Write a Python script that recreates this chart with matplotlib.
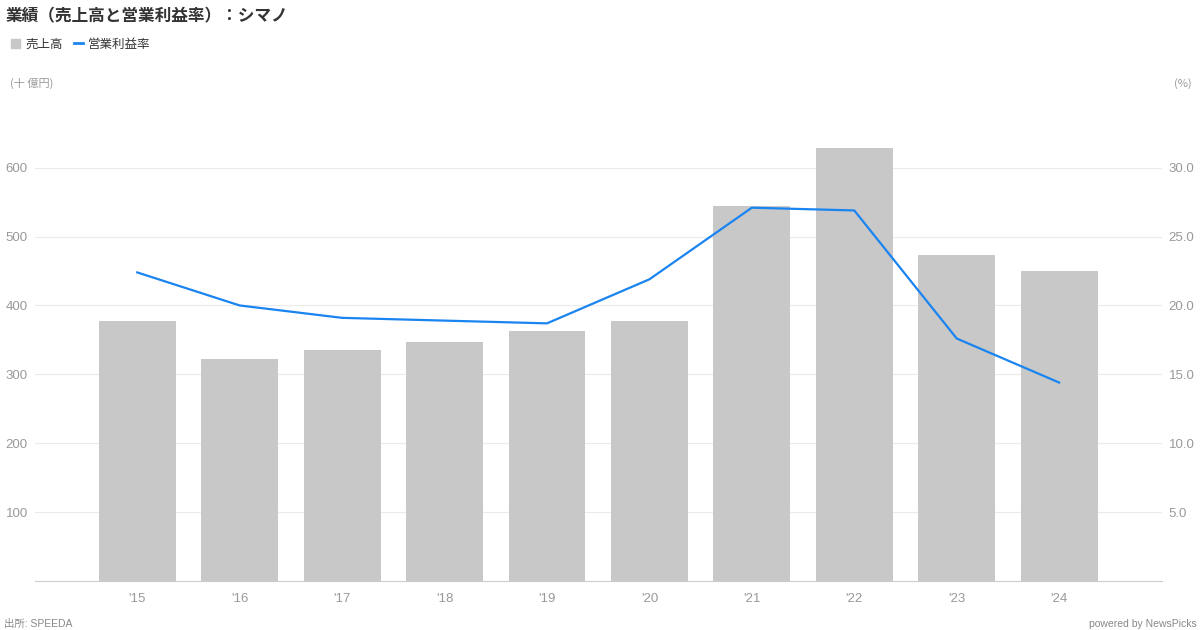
import matplotlib
matplotlib.use("Agg")
import matplotlib.pyplot as plt
from matplotlib.lines import Line2D
from matplotlib.patches import Patch

plt.rcParams['font.family'] = ['Noto Sans CJK JP', 'DejaVu Sans']

years = ["'15", "'16", "'17", "'18", "'19", "'20", "'21", "'22", "'23", "'24"]
sales = [378, 322, 335, 347, 363, 377, 545, 628, 473, 450]
op_margin = [22.4, 20.0, 19.1, 18.9, 18.7, 21.9, 27.1, 26.9, 17.6, 14.4]
left_ticks = [100, 200, 300, 400, 500, 600]
right_ticks = [5, 10, 15, 20, 25, 30]

bar_color = "#c8c8c8"
line_color = "#1a84f0"
tick_color = "#999999"
num_font = ['Liberation Sans', 'DejaVu Sans']

fig = plt.figure(figsize=(12, 6.3), dpi=100)
ax = fig.add_axes([0.029, 0.078, 0.939, 0.765])
ax2 = ax.twinx()

x = list(range(len(years)))
ax.bar(x, sales, width=0.75, color=bar_color, zorder=2)
ax2.plot(x, op_margin, color=line_color, lw=1.6, zorder=3)

ax.set_xlim(-1, 10)
ax.set_ylim(0, 700)
ax2.set_ylim(0, 35)

ax.set_yticks(left_ticks)
ax.set_yticklabels([str(v) for v in left_ticks], family=num_font)
ax2.set_yticks(right_ticks)
ax2.set_yticklabels([f"{v:.1f}" for v in right_ticks], family=num_font)
ax.set_xticks(x)
ax.set_xticklabels(years, family=num_font)

ax.grid(axis='y', color="#ebebeb", lw=0.8, zorder=0)
ax.set_axisbelow(True)

for a in (ax, ax2):
    for s in a.spines.values():
        s.set_visible(False)
    a.tick_params(length=0, colors=tick_color, labelsize=9.5)
ax.spines['bottom'].set_visible(True)
ax.spines['bottom'].set_color("#cccccc")
ax.tick_params(axis='x', pad=9)
ax.tick_params(axis='y', pad=5)
ax2.tick_params(axis='y', pad=5)

fig.text(0.005, 0.974, "業績（売上高と営業利益率）：シマノ", fontsize=12,
         fontweight='bold', color="#333333", va='center', ha='left')

handles = [Patch(color=bar_color), Line2D([0], [0], color=line_color, lw=2)]
fig.legend(handles, ["売上高", "営業利益率"], loc='center left',
           bbox_to_anchor=(0.0, 0.93), ncol=2, frameon=False, fontsize=9,
           handlelength=0.7, handleheight=0.7, handletextpad=0.4, columnspacing=0.9,
           labelcolor="#333333")

fig.text(0.008, 0.867, "(十 億円)", fontsize=8, color=tick_color, va='center')
fig.text(0.993, 0.867, "(%)", fontsize=8, color=tick_color, va='center', ha='right')

fig.text(0.003, 0.002, "出所: SPEEDA", fontsize=7.5, color="#888888", va='bottom',
         family=['Liberation Sans', 'Noto Sans CJK JP'])
fig.text(0.997, 0.002, "powered by NewsPicks", fontsize=7.5, color="#888888",
         va='bottom', ha='right', family=num_font)

fig.savefig("out.png", dpi=100)
